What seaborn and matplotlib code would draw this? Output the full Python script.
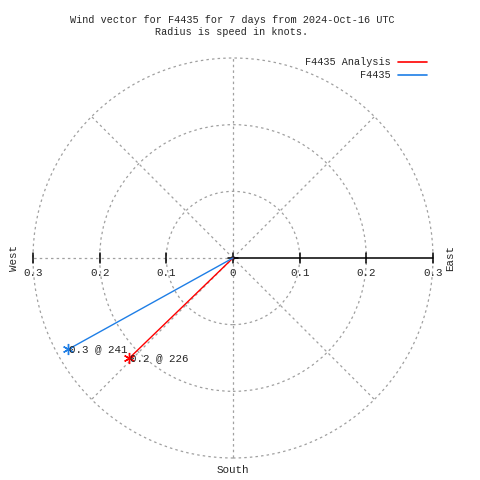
import numpy as np
import pandas as pd
import matplotlib
matplotlib.use("Agg")
import matplotlib.pyplot as plt
from matplotlib.patches import Circle
import seaborn as sns

# ---- data ----
series_names = ["F4435 Analysis", "F4435"]
speeds = [0.2166, 0.283]          # knots
directions = [226, 241]           # degrees (compass)
point_labels = ["0.2 @ 226", "0.3 @ 241"]
colors = ["#ff0000", "#1e7ee6"]
rings = [0.1, 0.2, 0.3]
tick_pos = [-0.3, -0.2, -0.1, 0.0, 0.1, 0.2, 0.3]
tick_text = ["0.3", "0.2", "0.1", "0", "0.1", "0.2", "0.3"]
title = "Wind vector for F4435 for 7 days from 2024-Oct-16 UTC\nRadius is speed in knots."

sns.set_style("white")
plt.rcParams['font.family'] = ['Liberation Mono', 'DejaVu Sans Mono']
FS = 7.3

fig = plt.figure(figsize=(4.8, 4.8), dpi=100)
ax = fig.add_axes([0, 0, 1, 1])
scale = 200 / 0.3  # px per knot
ax.set_xlim(-233 / scale, (480 - 233) / scale)
ax.set_ylim(-222 / scale, 258 / scale)
ax.set_aspect('equal')
ax.axis('off')

grid_kw = dict(color='#a0a0a0', lw=0.9, ls=(0, (2, 2.5)))
R = max(rings)
for r in rings:
    ax.add_patch(Circle((0, 0), r, fill=False, **grid_kw))
for ang in range(45, 360, 45):
    a = np.deg2rad(ang)
    ax.plot([0, R * np.cos(a)], [0, R * np.sin(a)], **grid_kw)
# solid east axis
ax.plot([0, R], [0, 0], color='black', lw=1.1)
# ticks
tl = 5 / scale
for p in tick_pos:
    ax.plot([p, p], [-tl, tl], color='black', lw=1.1)
ax.plot([-tl, tl], [0, 0], color='black', lw=1.1)
for p, t in zip(tick_pos, tick_text):
    ax.text(p, -15 / scale, t, ha='center', va='center', fontsize=FS + 0.5)

# wind vectors
for name, s, d, lab, c in zip(series_names, speeds, directions, point_labels, colors):
    th = np.deg2rad(90 - d)
    df = pd.DataFrame({"x": [0.0, s * np.cos(th)], "y": [0.0, s * np.sin(th)]})
    sns.lineplot(data=df, x="x", y="y", sort=False, color=c, lw=1, ax=ax,
                 marker=(6, 2, 0), markevery=[1], markersize=8, mec=c, mew=1,
                 legend=False)
    ax.text(df.x.iloc[1] + 1 / scale, df.y.iloc[1], lab, ha='left', va='center', fontsize=FS + 0.5)
ax.set_xlabel("")
ax.set_ylabel("")

# compass labels
ax.text(-219 / scale, 0, "West", rotation=90, ha='center', va='center', fontsize=FS + 0.5)
ax.text(217 / scale, 0, "East", rotation=90, ha='center', va='center', fontsize=FS + 0.5)
ax.text(0, -212 / scale, "South", ha='center', va='center', fontsize=FS + 0.5)

# title
fig.text(232 / 480, 1 - 26 / 480, title, ha='center', va='center', fontsize=FS, linespacing=1.25)

# legend
for i, (name, c) in enumerate(zip(series_names, colors)):
    y = 1 - (62 + 13 * i) / 480
    fig.text(391 / 480, y, name, ha='right', va='center', fontsize=FS)
    fig.add_artist(plt.Line2D([398 / 480, 427 / 480], [y, y], color=c, lw=1.2))

fig.savefig("out.png", dpi=100)
